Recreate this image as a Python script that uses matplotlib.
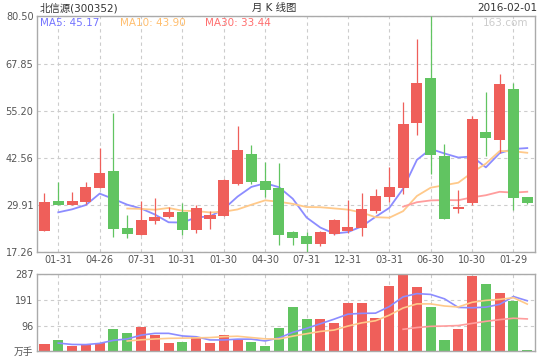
import matplotlib.pyplot as plt
import numpy as np
import pandas as pd

plt.rcParams['font.family'] = ['DejaVu Sans', 'Noto Sans CJK SC']

red = '#ef5f5a'
green = '#61c461'
grid_color = '#cccccc'
text_color = '#555555'

# monthly K-line data, 300352
dates = ['2012-12-31', '2013-01-31', '2013-02-28', '2013-03-29', '2013-04-26', '2013-05-31',
         '2013-06-28', '2013-07-31', '2013-08-30', '2013-09-30', '2013-10-31', '2013-11-29',
         '2013-12-31', '2014-01-30', '2014-02-28', '2014-03-31', '2014-04-30', '2014-05-30',
         '2014-06-30', '2014-07-31', '2014-10-31', '2014-11-28', '2014-12-31', '2015-01-30',
         '2015-02-27', '2015-03-31', '2015-04-30', '2015-05-29', '2015-06-30', '2015-07-31',
         '2015-08-31', '2015-10-30', '2015-11-30', '2015-12-31', '2016-01-29', '2016-02-01']
opens = [22.98, 30.95, 29.88, 30.69, 34.44, 39.01, 23.70, 21.82, 25.58, 26.66, 28.00, 23.17,
         26.20, 27.01, 35.60, 43.57, 36.32, 34.44, 22.63, 21.56, 19.41, 22.17, 22.98, 23.78,
         28.35, 32.11, 34.52, 51.98, 63.98, 43.04, 28.89, 30.42, 49.48, 47.41, 61.03, 32.03]
highs = [33.10, 36.06, 33.37, 36.06, 45.26, 54.66, 27.19, 31.03, 31.76, 29.42, 30.42, 29.88,
         28.27, 36.94, 51.09, 45.99, 41.43, 41.16, 22.98, 22.71, 22.98, 26.20, 31.30, 33.10,
         34.18, 40.08, 57.54, 74.45, 80.50, 46.26, 33.91, 53.78, 60.22, 65.05, 62.64, 32.03]
lows = [22.90, 29.80, 29.80, 30.23, 34.40, 21.37, 21.10, 21.80, 24.78, 26.39, 21.82, 22.44,
        23.52, 26.95, 35.33, 35.44, 32.11, 19.22, 19.22, 17.26, 18.95, 21.91, 22.44, 21.64,
        27.73, 30.60, 32.83, 48.67, 38.20, 26.10, 27.81, 29.88, 43.04, 43.92, 28.62, 30.15]
closes = [30.69, 29.88, 30.95, 34.71, 38.47, 23.52, 22.17, 25.85, 26.66, 28.00, 23.17, 29.07,
          27.19, 36.62, 44.68, 36.14, 33.99, 21.91, 21.10, 19.49, 22.63, 25.85, 23.97, 28.74,
          32.26, 34.71, 51.63, 62.64, 43.39, 26.20, 29.30, 53.07, 47.97, 62.47, 31.78, 30.55]
# volume in 万手
volumes = [27.3, 42.2, 19.9, 27.3, 31.1, 83.2, 68.3, 90.7, 60.9, 31.1, 34.8, 53.4,
           31.1, 60.9, 46.0, 34.8, 19.9, 87.0, 165.2, 120.5, 120.5, 105.6, 180.1, 180.1,
           124.2, 243.5, 287.0, 239.8, 165.2, 42.2, 83.2, 280.8, 251.0, 217.4, 187.6, 5.0]
# months before the visible window, only needed for the moving averages
prior_closes = [26.95, 28.91, 23.17]
prior_volumes = [45.0, 30.0, 8.0]

ma_periods = [5, 10, 30]
ma_colors = ['#8c8cff', '#ffc98a', '#ff9d9d']
ma_text_colors = ['#7474ff', '#ffbe6e', '#ff6e6e']

n_prior = len(prior_closes)
x = np.arange(len(dates))
o = np.array(opens)
c = np.array(closes)
up = c >= o
bar_colors = np.where(up, red, green)

close_series = pd.Series(prior_closes + closes)
volume_series = pd.Series(prior_volumes + volumes)
price_ma = [close_series.rolling(p).mean().iloc[n_prior:].values for p in ma_periods]
volume_ma = [volume_series.rolling(p).mean().iloc[n_prior:].values for p in ma_periods]

fig = plt.figure(figsize=(5.4, 3.6), dpi=100)
ax = fig.add_axes([0.0685, 0.3, 0.9222, 0.6542])
axv = fig.add_axes([0.0685, 0.0242, 0.9222, 0.2139])

tick_idx = x[1::3]
for a in (ax, axv):
    a.set_xlim(-0.544, len(dates) - 0.44)
    a.set_xticks(tick_idx)
    a.grid(True, color=grid_color, linestyle=(0, (3, 3)), linewidth=0.8)
    a.set_axisbelow(True)
    for s in a.spines.values():
        s.set_color('#aaaaaa')
        s.set_linewidth(1)
    a.tick_params(length=0, labelsize=7, colors=text_color, pad=2.5)

# moving averages under the candles
for ma, col in zip(price_ma, ma_colors):
    ax.plot(x, ma, color=col, lw=1.3, zorder=2)

ax.vlines(x, lows, highs, colors=bar_colors, lw=0.9, zorder=3)
body_bottom = np.minimum(o, c)
body_height = np.maximum(np.abs(c - o), 0.3)
ax.bar(x, body_height, 0.8, bottom=body_bottom, color=bar_colors, linewidth=0, zorder=4)

ymin, ymax = min(lows), max(highs)
ax.set_ylim(ymin, ymax)
yt = np.linspace(ymin, ymax, 6)
ax.set_yticks(yt)
ax.set_yticklabels(['%.2f' % v for v in yt])
ax.set_xticklabels([dates[i][5:] for i in tick_idx])

# volume panel
axv.bar(x, volumes, 0.73, color=bar_colors, linewidth=0, zorder=2)
for ma, col in zip(volume_ma, ma_colors):
    axv.plot(x, ma, color=col, lw=1.2, zorder=3)
vmax = max(volumes)
axv.set_ylim(0, vmax)
vt = [0, vmax / 3, vmax * 2 / 3, vmax]
axv.set_yticks(vt)
axv.set_yticklabels(['万手'] + ['%d' % round(v) for v in vt[1:]])
axv.set_xticklabels([])

# header texts
fig.text(40 / 540, 1 - 8 / 360, '北信源(300352)', fontsize=7.5, color='#333333', ha='left', va='center')
fig.text(274.5 / 540, 1 - 8 / 360, '月 K 线图', fontsize=7.5, color='#333333', ha='center', va='center')
fig.text(537 / 540, 1 - 8 / 360, dates[-1], fontsize=7.5, color='#333333', ha='right', va='center')
fig.text(528 / 540, 1 - 23 / 360, '163.com', fontsize=7.5, color='#cccccc', ha='right', va='center')

legend_x = [40, 120, 205]
for lx, p, ma, col in zip(legend_x, ma_periods, price_ma, ma_text_colors):
    fig.text(lx / 540, 1 - 23 / 360, 'MA%d: %.2f' % (p, ma[-1]), fontsize=7.5, color=col,
             ha='left', va='center')

fig.savefig('out.png', dpi=100)
